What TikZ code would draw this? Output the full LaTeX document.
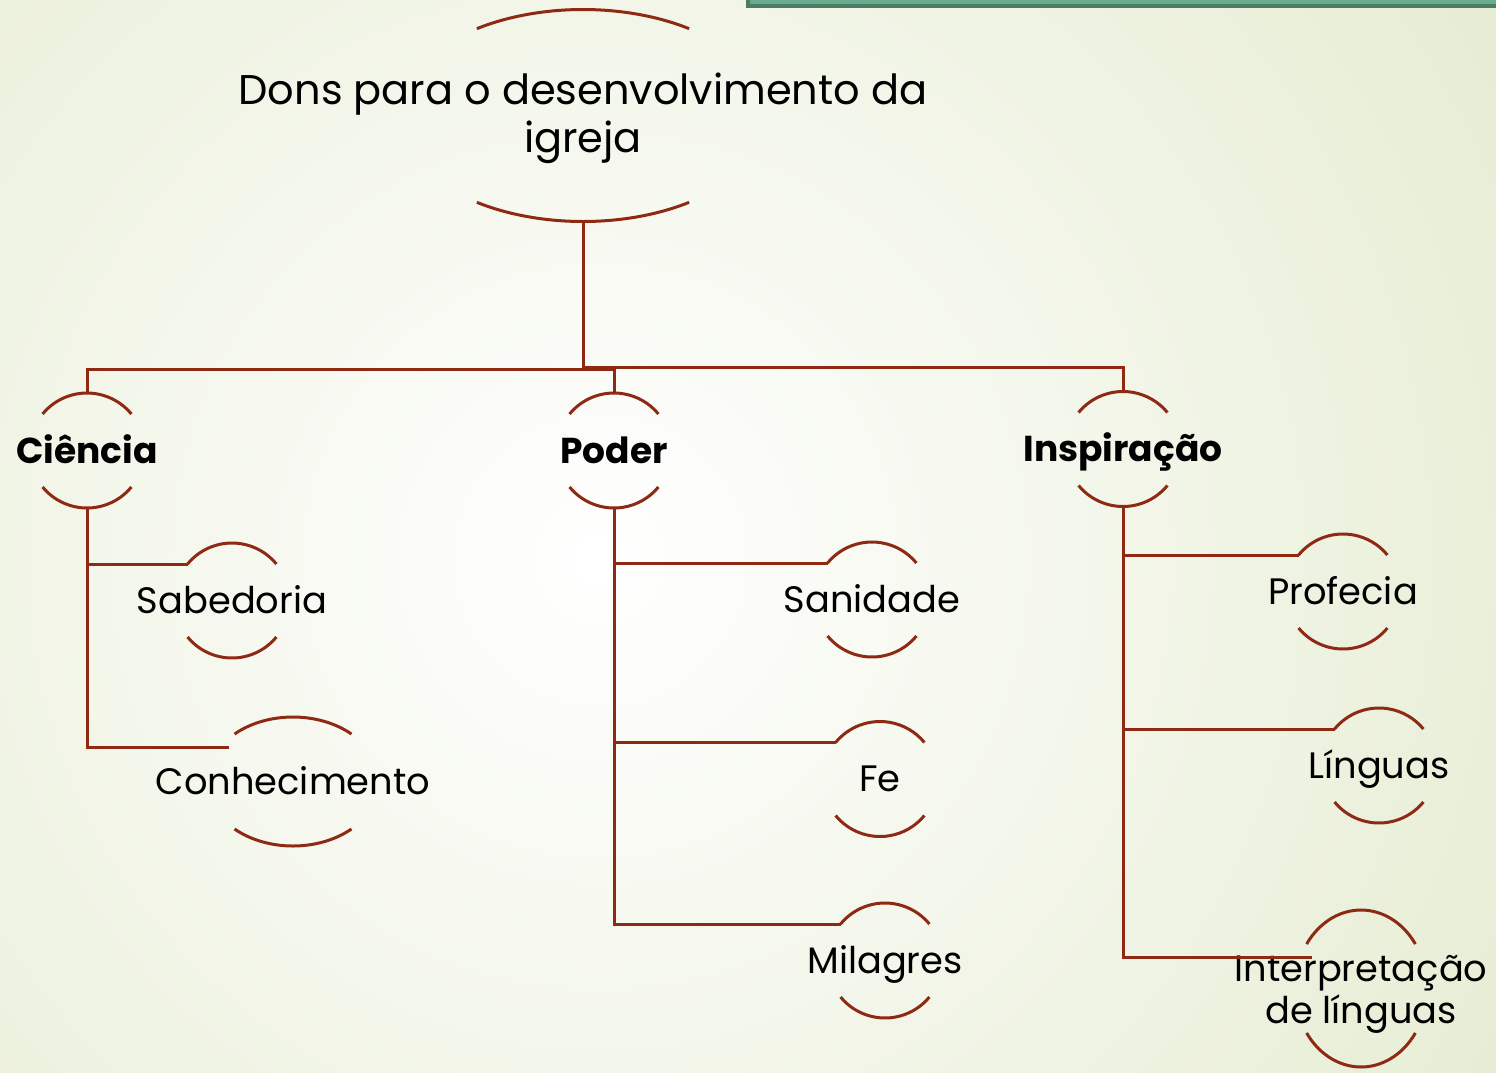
\documentclass[tikz,border=0pt]{standalone}
\usepackage{fontspec}
\setmainfont{Poppins}
\usetikzlibrary{calc}
\definecolor{lc}{HTML}{8E2A14}
\definecolor{bgout}{HTML}{E4EBCF}
\definecolor{barfill}{HTML}{67AD8D}
\definecolor{bardark}{HTML}{4C7C64}
\newcommand{\arcnode}[8]{%
  \node[lbl,#7] (#1) at (#2,#3) {#8};
  \coordinate (#1-c) at (#2,#3);
  \coordinate (#1-tl) at ($(#1-c)+({-#4*cos(#6)},{-#5*sin(#6)})$);
  \coordinate (#1-bl) at ($(#1-c)+({-#4*cos(#6)},{#5*sin(#6)})$);
  \coordinate (#1-top) at ($(#1-c)+(0,-#5)$);
  \coordinate (#1-bot) at ($(#1-c)+(0,#5)$);
  \draw[arcline] (#1-tl) arc[start angle={180+#6}, end angle={360-#6}, x radius=#4, y radius=#5];
  \draw[arcline] (#1-bl) arc[start angle={180-#6}, end angle={#6}, x radius=#4, y radius=#5];
}
\tikzset{
  lbl/.style={align=center, inner sep=0pt, text=black, text depth=0pt},
  rootfont/.style={font=\fontsize{41.5}{48}\selectfont, text height=29pt, yshift=-22pt},
  childfont/.style={font=\fontsize{36.8}{42}\selectfont, text height=25.8pt},
  twolines/.style={yshift=-22pt},
  boldfont/.style={font=\bfseries\fontsize{36}{42}\selectfont, text height=25.2pt},
  arcline/.style={draw=lc, line width=3pt},
  conn/.style={draw=lc, line width=3pt},
}
\begin{document}
\begin{tikzpicture}[x=1pt,y=-1pt]
\useasboundingbox (0,0) rectangle (1496,1072);
\begin{scope}
\clip (0,0) rectangle (1496,1072);
\fill[bgout] (0,0) rectangle (1496,1072);
\shade[inner color=white, outer color=bgout] (600,560) circle (1150);
\fill[bardark] (746,-10) rectangle (1500,8);
\fill[barfill] (750,-10) rectangle (1500,4);
\end{scope}

\arcnode{root}{583}{115.5}{185}{106}{55}{rootfont}{Dons para o desenvolvimento da\\igreja}
\arcnode{cien}{87}{450.5}{57.5}{57.5}{39.4}{boldfont}{Ciência}
\arcnode{poder}{614}{450.5}{57.5}{57.5}{39.4}{boldfont}{Poder}
\arcnode{insp}{1123}{449}{57.5}{57.5}{39.4}{boldfont}{Inspiração}
\arcnode{sab}{232}{600.5}{57.5}{57.5}{39.4}{childfont}{Sabedoria}
\arcnode{con}{293}{781.5}{86.4}{64.5}{47.4}{childfont}{Conhecimento}
\arcnode{san}{872}{599.5}{57.5}{57.5}{39.4}{childfont}{Sanidade}
\arcnode{fe}{880}{779}{57.5}{57.5}{39.4}{childfont}{Fe}
\arcnode{mil}{885}{960.5}{57.5}{57.5}{39.4}{childfont}{Milagres}
\arcnode{prof}{1343}{591.5}{57.5}{57.5}{39.4}{childfont}{Profecia}
\arcnode{ling}{1379}{765.5}{57.5}{57.5}{39.4}{childfont}{Línguas}
\arcnode{interp}{1361}{988.5}{66}{78.5}{34.5}{childfont,twolines}{Interpretação\\de línguas}

\coordinate (j1) at (583,369);
\coordinate (j2) at (583,367);
\coordinate (con-in) at (229,747);
\coordinate (interp-in) at (1312,957);

\draw[conn] (root-bot) -- (j1) -| (cien-top);
\draw[conn] (j1) -| (poder-top);
\draw[conn] (j2) -| (insp-top);

\draw[conn] (cien-bot) |- (sab-tl);
\draw[conn] (cien-bot) |- (con-in);

\draw[conn] (poder-bot) |- (san-tl);
\draw[conn] (poder-bot) |- (fe-tl);
\draw[conn] (poder-bot) |- (mil-tl);

\draw[conn] (insp-bot) |- (prof-tl);
\draw[conn] (insp-bot) |- (ling-tl);
\draw[conn] (insp-bot) |- (interp-in);
\end{tikzpicture}
\end{document}
